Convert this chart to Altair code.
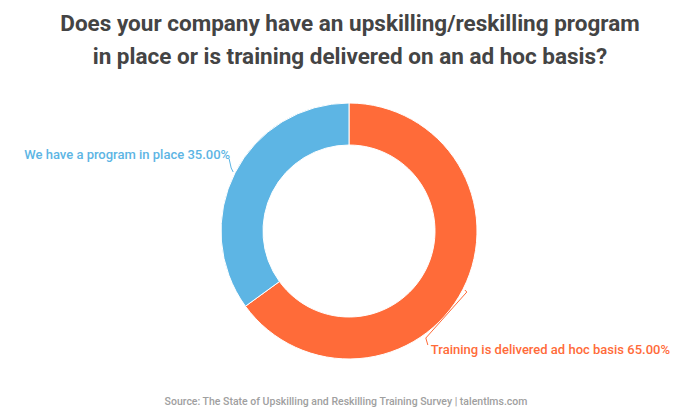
import altair as alt
import pandas as pd
import numpy as np

# ---- data ----
categories = ["Training is delivered ad hoc basis", "We have a program in place"]
values = [65.0, 35.0]
colors = ["#FF6B39", "#5DB5E4"]
title_lines = [
    "Does your company have an upskilling/reskilling program",
    "in place or is training delivered on an ad hoc basis?",
]
footer = "Source: The State of Upskilling and Reskilling Training Survey  |  talentlms.com"

# ---- layout constants (plot-area pixels) ----
W, H = 684, 330
PAD_TOP = 75
CX, CY = 341, 148
R_OUT, R_IN = 128, 86

# leader-line / label offsets relative to the anchor point on the ring
LEADER = {
    categories[0]: [(0, 0), (2, 2), (-39, 48), (-37, 55)],
    categories[1]: [(0, 0), (-2, -4), (-4, -13)],
}
LABEL_OFF = {categories[0]: (-34, 60), categories[1]: (-3, -17)}
ALIGN = {categories[0]: "left", categories[1]: "right"}

vals = np.array(values)
cum = np.cumsum(vals)
mid = cum - vals / 2
ang = mid / vals.sum() * 2 * np.pi
ax = CX + (R_OUT + 2) * np.sin(ang)
ay = CY - (R_OUT + 2) * np.cos(ang)

arc_df = pd.DataFrame({"cat": categories, "value": values, "idx": range(len(categories))})

line_rows = []
for i, c in enumerate(categories):
    for s, (dx, dy) in enumerate(LEADER[c]):
        line_rows.append({"cat": c, "seq": s, "x": ax[i] + dx, "y": ay[i] + dy})
line_df = pd.DataFrame(line_rows)

lab_df = pd.DataFrame({
    "cat": categories,
    "label": [f"{c} {v:.2f}%" for c, v in zip(categories, values)],
    "x": [ax[i] + LABEL_OFF[c][0] for i, c in enumerate(categories)],
    "y": [ay[i] + LABEL_OFF[c][1] for i, c in enumerate(categories)],
    "align": [ALIGN[c] for c in categories],
})

color_scale = alt.Scale(domain=categories, range=colors)

arcs = alt.Chart(arc_df).mark_arc(
    outerRadius=R_OUT, innerRadius=R_IN, stroke="white", strokeWidth=1
).encode(
    theta=alt.Theta("value:Q", stack=True),
    color=alt.Color("cat:N", scale=color_scale, legend=None),
    order=alt.Order("idx:Q"),
    x=alt.value(CX),
    y=alt.value(CY),
)

leaders = alt.Chart(line_df).mark_line(strokeWidth=1).encode(
    x=alt.X("x:Q", scale=None, axis=None),
    y=alt.Y("y:Q", scale=None, axis=None),
    color=alt.Color("cat:N", scale=color_scale, legend=None),
    detail="cat:N",
    order="seq:Q",
)

def label_layer(align):
    return alt.Chart(lab_df).transform_filter(
        alt.datum.align == align
    ).mark_text(
        align=align, baseline="middle", font="Roboto", fontSize=13, fontWeight=500
    ).encode(
        x=alt.X("x:Q", scale=None, axis=None),
        y=alt.Y("y:Q", scale=None, axis=None),
        text="label:N",
        color=alt.Color("cat:N", scale=color_scale, legend=None),
    )

foot = alt.Chart(pd.DataFrame({"t": [footer]})).mark_text(
    align="center", baseline="middle", font="Roboto", fontSize=10.5,
    fontWeight=500, color="#a0a0a0"
).encode(text="t:N", x=alt.value(338), y=alt.value(319))

chart = alt.layer(arcs, leaders, label_layer("left"), label_layer("right"), foot).properties(
    width=W,
    height=H,
    autosize=alt.AutoSizeParams(type="none"),
    padding={"left": 0, "top": PAD_TOP, "right": 0, "bottom": 0},
    title=alt.TitleParams(
        text=title_lines,
        font="Roboto",
        fontSize=22.5,
        fontWeight="bold",
        color="#444444",
        anchor="middle",
        lineHeight=33,
        offset=15,
    ),
).configure_view(stroke=None)

chart.save("out.html", embed_options={"renderer": "svg", "actions": False})
